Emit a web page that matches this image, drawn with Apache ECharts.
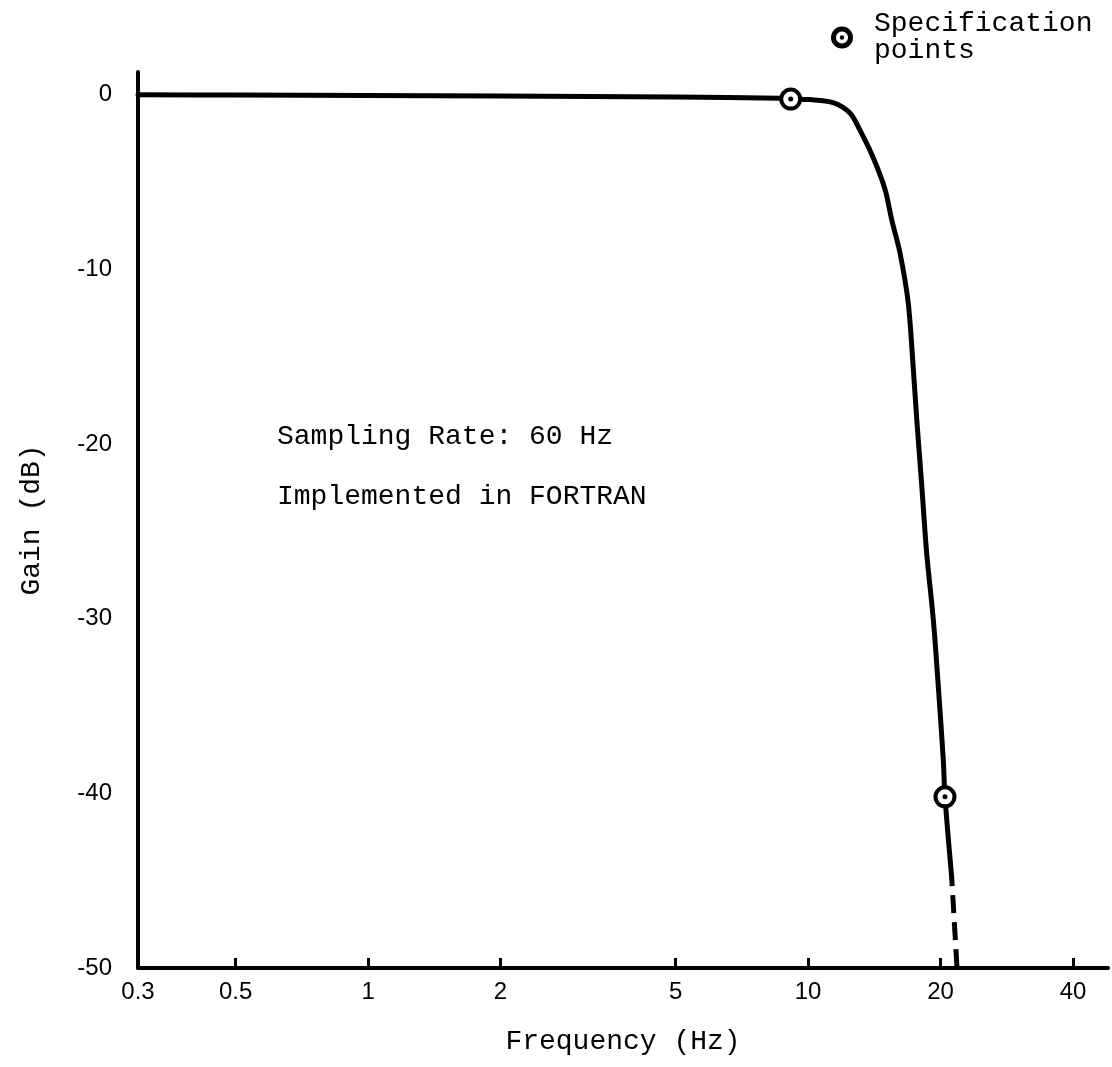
<!DOCTYPE html>
<html>
<head>
<meta charset="utf-8">
<script src="https://cdn.jsdelivr.net/npm/echarts@6/dist/echarts.min.js"></script>
<style>
  html, body { margin: 0; padding: 0; background: #fff; }
  #chart { width: 1112px; height: 1067px; }
</style>
</head>
<body>
<div id="chart"></div>
<script>
// frequency response
const freqHz = [0.3, 0.5, 1, 2, 5, 8.63, 9.13, 10.1, 11.4, 12.45, 13.1, 14.0, 14.95,
  15.49, 16.18, 16.89, 17.35, 17.66, 18.13, 18.6, 19.26, 19.77, 20.29, 20.47, 21.2];
const gainDb = [0, -0.02, -0.05, -0.08, -0.13, -0.21, -0.25, -0.28, -0.45, -1.05, -2.0, -3.5, -5.4,
  -7.16, -9.07, -11.93, -15.75, -18.6, -22.4, -26.25, -30.07, -33.9, -38.1, -40.2, -44.8];

// extrapolated (dashed) tail
const tailHz = [21.2, 21.8];
const tailDb = [-44.8, -50];

// specification points
const specHz = [9.13, 20.47];
const specDb = [-0.25, -40.2];

const xTicks = [0.3, 0.5, 1, 2, 5, 10, 20, 40];
const yTicks = [-50, -40, -30, -20, -10, 0];

const lg = (f) => Math.log10(f);
const pts = (fs, gs) => fs.map((f, i) => [lg(f), gs[i]]);

const mono = '"Liberation Mono", "DejaVu Sans Mono", monospace';
const sans = '"Liberation Sans", Arial, sans-serif';

// ring with a dot in the middle, for the legend icon
const ringIcon = 'path://M0,-10A10,10 0 1,1 0,10A10,10 0 1,1 0,-10Z' +
  'M0,-5.5A5.5,5.5 0 1,0 0,5.5A5.5,5.5 0 1,0 0,-5.5Z' +
  'M0,-2A2,2 0 1,1 0,2A2,2 0 1,1 0,-2Z';

var myChart = echarts.init(document.getElementById('chart'), null, { renderer: 'canvas' });

option = {
  backgroundColor: '#fff',
  animation: false,
  grid: { left: 138, right: 4, top: 72, bottom: 99 },
  legend: {
    left: 826,
    top: 5,
    itemWidth: 22,
    itemHeight: 22,
    selectedMode: false,
    data: [{ name: 'Specification points', icon: ringIcon, itemStyle: { color: '#000', borderWidth: 0 } }],
    formatter: () => 'Specification\npoints',
    textStyle: { fontFamily: mono, fontSize: 28, lineHeight: 27, color: '#000', padding: [0, 0, 0, 16] }
  },
  xAxis: {
    type: 'value',
    min: lg(0.3),
    max: 1.6816,
    name: 'Frequency (Hz)',
    nameLocation: 'middle',
    nameGap: 60,
    nameTextStyle: { fontFamily: mono, fontSize: 28, color: '#000' },
    axisLine: { onZero: false, lineStyle: { color: '#000', width: 4 } },
    axisTick: { inside: true, length: 10, lineStyle: { color: '#000', width: 3 }, customValues: xTicks.map(lg) },
    axisLabel: {
      customValues: xTicks.map(lg),
      margin: 12,
      fontFamily: sans,
      fontSize: 24,
      color: '#000',
      formatter: (v) => String(Math.round(Math.pow(10, v) * 10) / 10)
    },
    splitLine: { show: false }
  },
  yAxis: {
    type: 'value',
    min: -50,
    max: 1.3,
    name: 'Gain (dB)',
    nameLocation: 'middle',
    nameGap: 92,
    nameTextStyle: { fontFamily: mono, fontSize: 28, color: '#000' },
    axisLine: { onZero: false, lineStyle: { color: '#000', width: 4 } },
    axisTick: { show: false },
    axisLabel: { customValues: yTicks, margin: 26, fontFamily: sans, fontSize: 24, color: '#000' },
    splitLine: { show: false }
  },
  graphic: [
    { type: 'text', left: 277, top: 423, style: { text: 'Sampling Rate: 60 Hz', font: '28px ' + mono, fill: '#000' } },
    { type: 'text', left: 277, top: 483, style: { text: 'Implemented in FORTRAN', font: '28px ' + mono, fill: '#000' } }
  ],
  series: [
    {
      name: 'Gain',
      type: 'line',
      data: pts(freqHz, gainDb),
      showSymbol: false,
      smooth: 0.3,
      lineStyle: { color: '#000', width: 5, join: 'round', cap: 'round' },
      z: 2
    },
    {
      name: 'Tail',
      type: 'line',
      data: pts(tailHz, tailDb),
      showSymbol: false,
      lineStyle: { color: '#000', width: 5, type: [18, 9], dashOffset: 9 },
      z: 2
    },
    {
      name: 'Specification points',
      type: 'scatter',
      data: pts(specHz, specDb),
      symbol: 'circle',
      symbolSize: 19,
      itemStyle: { color: '#fff', borderColor: '#000', borderWidth: 4, opacity: 1 },
      z: 3
    },
    {
      name: 'spec dot',
      type: 'scatter',
      data: pts(specHz, specDb),
      symbol: 'circle',
      symbolSize: 5,
      itemStyle: { color: '#000', opacity: 1 },
      z: 4
    }
  ]
};

myChart.setOption(option);
window.addEventListener('resize', myChart.resize);
</script>
</body>
</html>
